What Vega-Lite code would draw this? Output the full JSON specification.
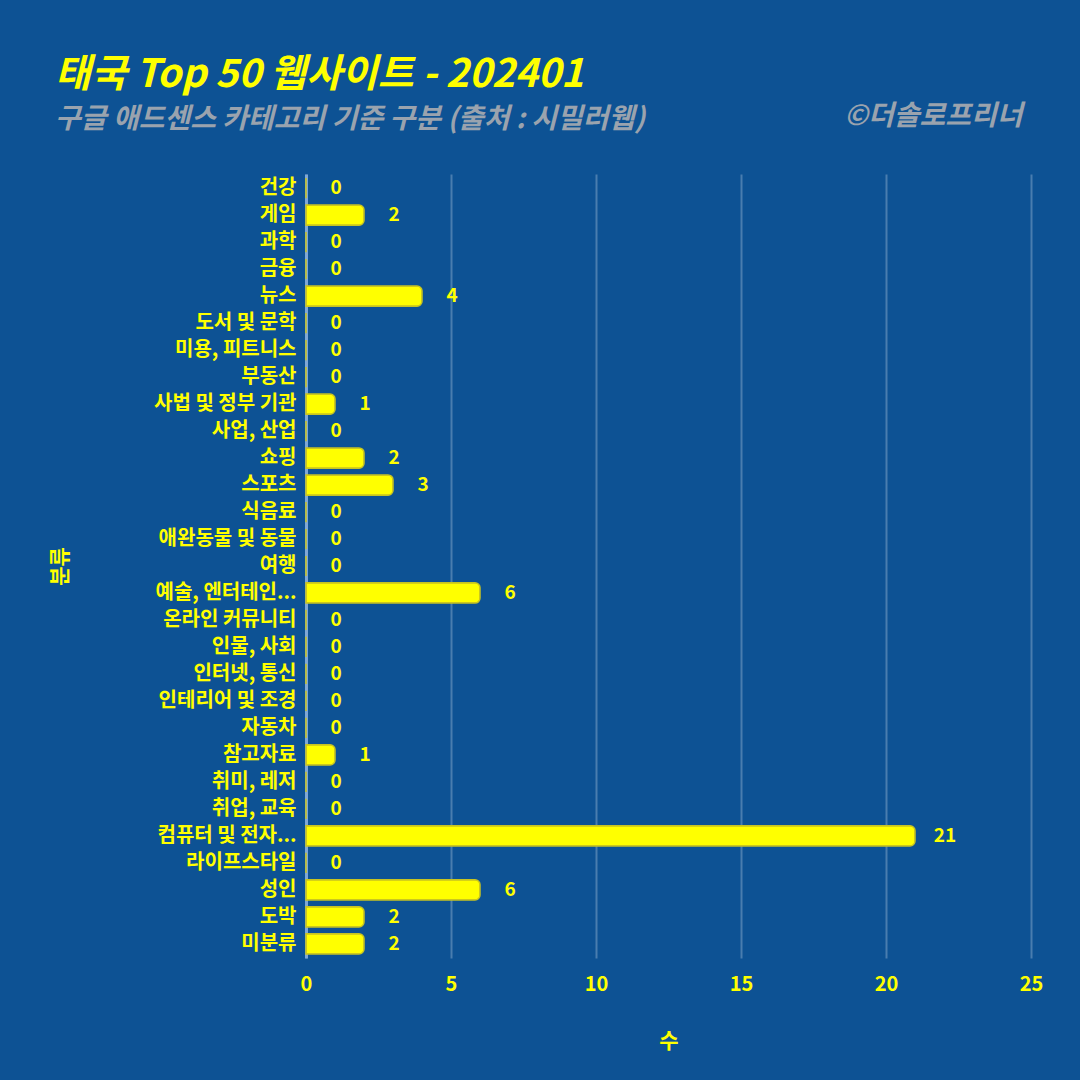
{
  "$schema": "https://vega.github.io/schema/vega-lite/v6.json",
  "width": 725,
  "height": 784,
  "autosize": {"type": "none"},
  "padding": {"left": 306, "top": 174, "right": 49, "bottom": 122},
  "background": "#0D5294",
  "config": {"view": {"stroke": null}, "font": "Noto Sans CJK KR"},
  "title": {
    "text": "태국 Top 50 웹사이트 - 202401",
    "subtitle": "구글 애드센스 카테고리 기준 구분 (출처 : 시밀러웹)",
    "anchor": "start",
    "frame": "group",
    "dx": -251,
    "offset": -32,
    "fontSize": 39,
    "fontStyle": "italic",
    "fontWeight": "bold",
    "color": "#FFFF00",
    "subtitleColor": "#9AA3AE",
    "subtitleFontSize": 28,
    "subtitleFontStyle": "italic",
    "subtitleFontWeight": "bold",
    "subtitlePadding": 11
  },
  "data": {
    "values": [
      {"cat": "건강", "n": 0},
      {"cat": "게임", "n": 2},
      {"cat": "과학", "n": 0},
      {"cat": "금융", "n": 0},
      {"cat": "뉴스", "n": 4},
      {"cat": "도서 및 문학", "n": 0},
      {"cat": "미용, 피트니스", "n": 0},
      {"cat": "부동산", "n": 0},
      {"cat": "사법 및 정부 기관", "n": 1},
      {"cat": "사업, 산업", "n": 0},
      {"cat": "쇼핑", "n": 2},
      {"cat": "스포츠", "n": 3},
      {"cat": "식음료", "n": 0},
      {"cat": "애완동물 및 동물", "n": 0},
      {"cat": "여행", "n": 0},
      {"cat": "예술, 엔터테인...", "n": 6},
      {"cat": "온라인 커뮤니티", "n": 0},
      {"cat": "인물, 사회", "n": 0},
      {"cat": "인터넷, 통신", "n": 0},
      {"cat": "인테리어 및 조경", "n": 0},
      {"cat": "자동차", "n": 0},
      {"cat": "참고자료", "n": 1},
      {"cat": "취미, 레저", "n": 0},
      {"cat": "취업, 교육", "n": 0},
      {"cat": "컴퓨터 및 전자...", "n": 21},
      {"cat": "라이프스타일", "n": 0},
      {"cat": "성인", "n": 6},
      {"cat": "도박", "n": 2},
      {"cat": "미분류", "n": 2}
    ]
  },
  "encoding": {
    "y": {
      "field": "cat",
      "type": "nominal",
      "sort": null,
      "scale": {"paddingInner": 0.25, "paddingOuter": 0.15},
      "axis": {
        "title": "분류",
        "titleColor": "#FFFF00",
        "titleFontSize": 21,
        "titleFontWeight": "bold",
        "titleX": -246,
        "titleY": 392,
        "titleAlign": "center",
        "titleBaseline": "middle",
        "labelColor": "#FFFF00",
        "labelFontSize": 20,
        "labelFontWeight": "bold",
        "labelPadding": 10,
        "labelLimit": 300,
        "ticks": false,
        "domainColor": "#7FA7D6",
        "domainWidth": 3
      }
    }
  },
  "layer": [
    {
      "mark": {"type": "bar", "color": "#FFFF00", "stroke": "#C8C420", "strokeWidth": 1.5, "cornerRadiusEnd": 5},
      "encoding": {
        "x": {
          "field": "n",
          "type": "quantitative",
          "scale": {"domain": [0, 25], "nice": false},
          "axis": {
            "values": [0, 5, 10, 15, 20, 25],
            "title": "수",
            "titleColor": "#FFFF00",
            "titleFontSize": 21,
            "titleFontWeight": "bold",
            "titlePadding": 36,
            "labelColor": "#FFFF00",
            "labelFontSize": 20,
            "labelFontWeight": "bold",
            "labelPadding": 16,
            "labelFlush": false,
            "ticks": false,
            "domain": false,
            "grid": true,
            "gridColor": "#FFFFFF",
            "gridOpacity": 0.25,
            "gridWidth": 2
          }
        }
      }
    },
    {
      "mark": {"type": "text", "color": "#FFFF00", "fontSize": 19, "fontWeight": "bold", "align": "center", "baseline": "middle", "dx": 30},
      "encoding": {
        "x": {
          "field": "n",
          "type": "quantitative",
          "axis": {
            "orient": "top",
            "title": "©더솔로프리너",
            "titleColor": "#9AA3AE",
            "titleFontSize": 28,
            "titleFontStyle": "italic",
            "titleFontWeight": "bold",
            "titleAnchor": "end",
            "titleAlign": "right",
            "titleX": 716,
            "titleY": -44,
            "labels": false,
            "ticks": false,
            "domain": false,
            "grid": false
          }
        },
        "text": {"field": "n", "type": "quantitative"}
      }
    }
  ],
  "resolve": {"axis": {"x": "independent"}}
}
